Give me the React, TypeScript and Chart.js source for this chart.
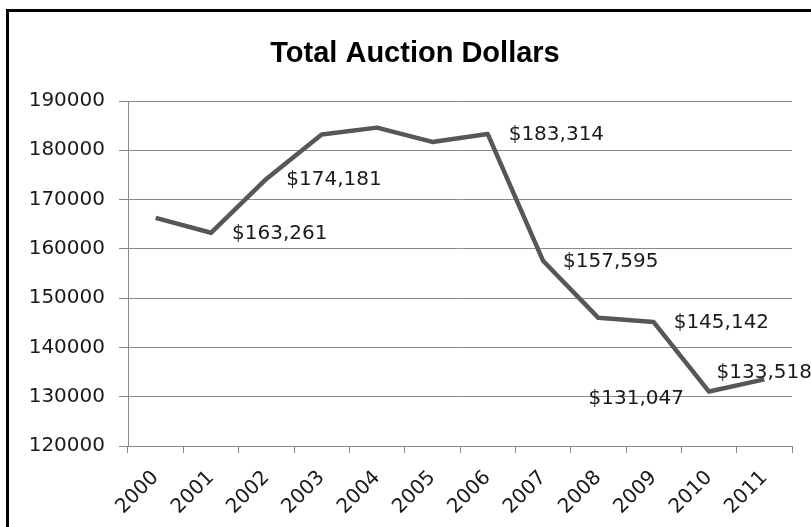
import React, { useEffect, useRef } from "react";
import { Chart, registerables } from "chart.js";

Chart.register(...registerables);

// ---- data ----
const years: string[] = ["2000", "2001", "2002", "2003", "2004", "2005", "2006", "2007", "2008", "2009", "2010", "2011"];
const totalDollars: number[] = [166300, 163261, 174181, 183200, 184600, 181700, 183314, 157595, 146000, 145142, 131047, 133518];
const showValueLabel: boolean[] = [false, true, true, false, false, false, true, true, false, true, true, true];
const yMin = 120000;
const yMax = 190000;
const yStep = 10000;
const chartTitle = "Total Auction Dollars";

const AXIS_FONT = "DejaVu Sans";
const TEXT_COLOR = "#1a1a1a";
const GRID_COLOR = "#8a8a8a";

const fmtDollar = (v: number) => "$" + v.toLocaleString("en-US");

// per-point label placement (index -> alignment and offset from the point)
const labelPlacement: Record<number, { align: CanvasTextAlign; dx: number; dy: number }> = {
  1: { align: "left", dx: 21, dy: 1 },
  2: { align: "left", dx: 20, dy: 1 },
  6: { align: "left", dx: 21, dy: 1 },
  7: { align: "left", dx: 20, dy: 1 },
  9: { align: "left", dx: 20, dy: 1 },
  10: { align: "right", dx: -25, dy: 7 },
  11: { align: "center", dx: 0, dy: -7 },
};

const framePlugin = {
  id: "frame",
  beforeDraw(chart: any) {
    const { ctx, width, height } = chart;
    ctx.save();
    ctx.fillStyle = "#ffffff";
    ctx.fillRect(0, 0, width, height);
    ctx.fillStyle = "#000000";
    ctx.fillRect(6, 9, 3, height - 9);
    ctx.fillRect(6, 9, width - 6, 3);
    ctx.restore();
  },
};

const titlePlugin = {
  id: "customTitle",
  afterDraw(chart: any) {
    const { ctx } = chart;
    ctx.save();
    ctx.font = "bold 29px 'Liberation Sans'";
    ctx.fillStyle = "#000000";
    ctx.textAlign = "center";
    ctx.textBaseline = "alphabetic";
    ctx.fillText(chartTitle, 415, 62);
    ctx.restore();
  },
};

const valueLabelPlugin = {
  id: "valueLabels",
  afterDatasetsDraw(chart: any) {
    const { ctx } = chart;
    const meta = chart.getDatasetMeta(0);
    ctx.save();
    ctx.font = `20px '${AXIS_FONT}'`;
    ctx.fillStyle = TEXT_COLOR;
    ctx.textBaseline = "middle";
    meta.data.forEach((pt: any, i: number) => {
      if (!showValueLabel[i]) return;
      const p = labelPlacement[i] || { align: "left", dx: 20, dy: 0 };
      ctx.textAlign = p.align;
      ctx.fillText(fmtDollar(totalDollars[i]), pt.x + p.dx, pt.y + p.dy);
    });
    ctx.restore();
  },
};

export default function App() {
  const canvasRef = useRef<HTMLCanvasElement | null>(null);

  useEffect(() => {
    if (!canvasRef.current) return;
    const chart = new Chart(canvasRef.current, {
      type: "line",
      data: {
        labels: years,
        datasets: [
          {
            label: chartTitle,
            data: totalDollars,
            borderColor: "#575757",
            borderWidth: 4.5,
            pointRadius: 0,
            tension: 0,
            fill: false,
            borderJoinStyle: "round",
          },
        ],
      },
      options: {
        responsive: false,
        animation: false,
        events: [],
        layout: { padding: { top: 101, right: 19, left: 0, bottom: 0 } },
        plugins: {
          legend: { display: false },
          title: { display: false },
          tooltip: { enabled: false },
        },
        scales: {
          x: {
            type: "category",
            offset: true,
            grid: {
              offset: true,
              drawOnChartArea: false,
              drawTicks: true,
              tickLength: 7,
              color: GRID_COLOR,
            },
            border: { color: GRID_COLOR, width: 1 },
            ticks: {
              autoSkip: false,
              minRotation: 45,
              maxRotation: 45,
              padding: 13,
              color: TEXT_COLOR,
              font: { family: AXIS_FONT, size: 20 },
            },
            afterFit: (s: any) => {
              s.height = 81;
            },
          },
          y: {
            min: yMin,
            max: yMax,
            ticks: {
              stepSize: yStep,
              callback: (v: any) => String(v),
              padding: 14,
              color: TEXT_COLOR,
              font: { family: AXIS_FONT, size: 20 },
            },
            grid: { color: GRID_COLOR, tickLength: 9, drawTicks: true },
            border: { color: GRID_COLOR, width: 1 },
            afterFit: (s: any) => {
              s.width = 128;
            },
          },
        },
      },
      plugins: [framePlugin, titlePlugin, valueLabelPlugin],
    });
    return () => chart.destroy();
  }, []);

  return (
    <div style={{ position: "fixed", left: 0, top: 0, width: 811, height: 527, background: "#fff" }}>
      <canvas ref={canvasRef} width={811} height={527} style={{ display: "block" }} />
    </div>
  );
}
